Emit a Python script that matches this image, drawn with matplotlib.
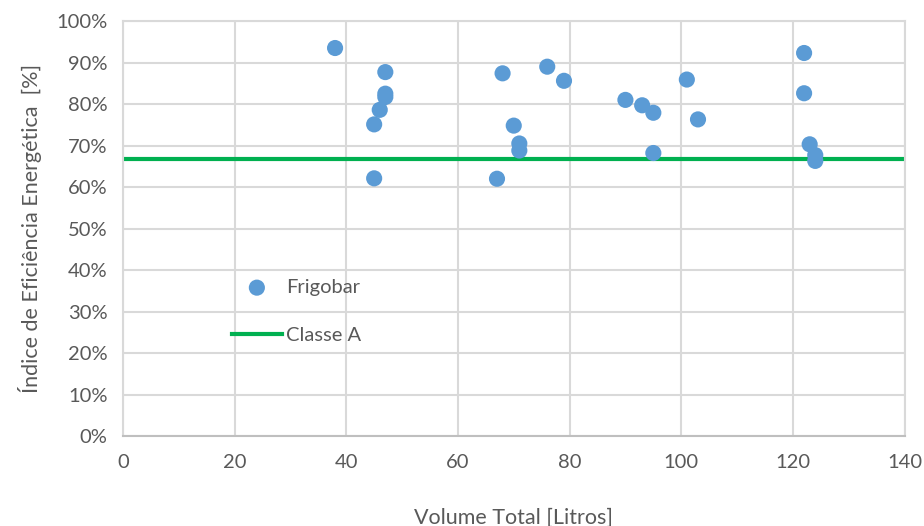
import matplotlib
matplotlib.use("Agg")
import matplotlib.pyplot as plt
from matplotlib.ticker import FuncFormatter

volume = [38, 47, 47, 47, 46, 45, 45, 68, 76, 79, 70, 71, 71, 67,
          90, 93, 95, 95, 101, 103, 122, 122, 123, 124, 124]
indice = [0.935, 0.877, 0.825, 0.817, 0.786, 0.751, 0.621, 0.874, 0.890, 0.856,
          0.748, 0.705, 0.688, 0.620, 0.810, 0.797, 0.779, 0.682, 0.859, 0.763,
          0.923, 0.826, 0.703, 0.677, 0.663]
classe_a_x = [0, 140]
classe_a_y = [0.667, 0.667]

plt.rcParams['font.family'] = ['Lato', 'DejaVu Sans']
txt = '#595959'
grid = '#d9d9d9'

fig = plt.figure(figsize=(9.24, 5.26), dpi=100)
ax = fig.add_axes([0.133, 0.171, 0.846, 0.789])

ax.plot(classe_a_x, classe_a_y, color='#00b050', lw=3, label='Classe A', zorder=2)
ax.scatter(volume, indice, s=135, color='#5b9bd5', label='Frigobar', zorder=3,
           edgecolors='none')

ax.set_xlim(0, 140)
ax.set_ylim(0, 1.0)
ax.set_xticks(range(0, 141, 20))
ax.set_yticks([i / 10 for i in range(11)])
ax.yaxis.set_major_formatter(FuncFormatter(lambda v, p: f"{v*100:.0f}%"))
ax.grid(True, color=grid, lw=1.5, zorder=0)
ax.set_axisbelow(True)
for s in ['top', 'right', 'left']:
    ax.spines[s].set_color(grid)
    ax.spines[s].set_linewidth(1.5)
ax.spines['bottom'].set_color('#bfbfbf')
ax.spines['bottom'].set_linewidth(1.5)
ax.tick_params(length=0, labelsize=14.5, colors=txt)
ax.tick_params(axis='x', pad=13)
ax.tick_params(axis='y', pad=11)

ax.set_xlabel('Volume Total [Litros]', fontsize=15.5, color=txt, labelpad=26)
ax.set_ylabel('Índice de Eficiência Energética  [%]', fontsize=15.5, color=txt, labelpad=10)

handles, labels = ax.get_legend_handles_labels()
leg = ax.legend(handles[::-1], labels[::-1], loc='center left',
                bbox_to_anchor=(0.116, 0.30), frameon=False, fontsize=14.5,
                labelcolor=txt, handlelength=2.5, handletextpad=0.2,
                labelspacing=1.55)

fig.savefig('out.png', dpi=100)
